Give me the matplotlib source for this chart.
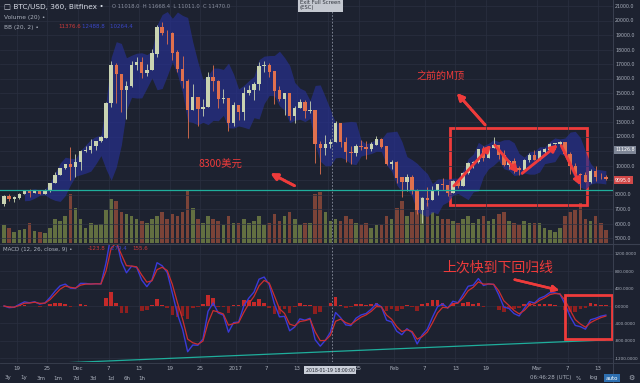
import numpy as np
import pandas as pd
import matplotlib.pyplot as plt
from matplotlib.patches import Rectangle

plt.rcParams['font.family'] = ['DejaVu Sans']
CJK = ['Noto Sans CJK SC', 'DejaVu Sans']

# daily BTC/USD candles, 2017-11-16 .. 2018-03-14
start_date = '2017-11-16'
first_open = 7323
close = [7871, 7708, 7790, 8036, 8200, 8072, 8254, 8039, 8253, 8790, 9330, 9818, 10058, 9888, 10233,
         10975, 11075, 11323, 11657, 11916, 14291, 16900, 16300, 15178, 15455, 16936, 17115, 16408, 16564, 17706,
         19498, 19140, 19114, 17776, 16624, 15802, 13831, 14699, 13925, 14026, 16099, 15838, 14607, 14656, 12952, 14156,
         13657, 14982, 15201, 15599, 16829, 16927, 16477, 15170, 14595, 14973, 13405, 13980, 14360, 13772, 13819,
         11490, 11188, 11474, 11607, 12899, 11600, 10931, 10868, 11359, 11259, 11171, 11440, 11787, 11296, 10106, 10221,
         9170, 8830, 9174, 8277, 6955, 7754, 7621, 8265, 8736, 8621, 8129, 8926, 8598, 9494, 10166, 10233,
         11112, 10551, 11225, 11403, 10690, 10005, 10301, 9813, 9664, 10366, 10725, 10397,
         10951, 11086, 11489, 11512, 11573, 10779, 9966, 9395, 9337, 8867, 9578, 9205, 9194, 9095]
high = [7967, 8004, 7884, 8102, 8280, 8374, 8302, 8268, 8375, 8790, 9522, 9818, 10125, 11300, 10801,
        11046, 11320, 11858, 11657, 12032, 14369, 17200, 17100, 16200, 15850, 17213, 17481, 17453, 16985, 18054,
        19716, 19891, 19371, 19177, 17935, 17567, 15943, 15603, 14626, 14593, 16461, 16930, 15888, 15279, 14681, 14377,
        14112, 15444, 15572, 15739, 17105, 17212, 17079, 16537, 15497, 14973, 15018, 14109, 14595, 14511, 14445,
        13843, 11678, 12107, 11862, 13103, 12895, 11966, 11377, 11501, 11785, 11656, 11614, 12040, 11876, 11307, 10382,
        10289, 9142, 9430, 9334, 8364, 7850, 8509, 8558, 8736, 9122, 8616, 8985, 8958, 9518, 10234, 10324,
        11139, 11349, 11274, 11958, 11418, 11039, 10395, 10498, 9966, 10475, 10878, 11089,
        11052, 11189, 11528, 11512, 11710, 11500, 10900, 10147, 9466, 9531, 9771, 9937, 9470, 9350]
low = [7176, 7561, 7463, 7694, 8007, 7842, 8075, 8038, 8034, 8191, 8775, 9352, 9736, 9000, 9202,
       9694, 10905, 10862, 11081, 11604, 11923, 14057, 14337, 13674, 13226, 15405, 16571, 16039, 16185, 16601,
       17516, 18974, 18355, 17275, 16454, 15342, 11900, 13828, 12747, 13448, 14028, 15114, 13937, 14307, 12350, 12755,
       13154, 13163, 14844, 14522, 15202, 16464, 16087, 14208, 14424, 13491, 13105, 12916, 13952, 13268, 13642,
       10194, 9402, 10715, 11180, 11656, 11288, 10240, 10129, 10639, 11057, 10470, 10989, 11475, 11179, 10036, 9745,
       8812, 7796, 8251, 8032, 6626, 6048, 7236, 7637, 7984, 8295, 7931, 8141, 8455, 8599, 9395, 9824,
       10150, 10326, 10513, 11231, 10479, 9939, 9734, 9501, 9377, 9540, 10247, 10393,
       10352, 10850, 11002, 11136, 11423, 10695, 9394, 9336, 8283, 8828, 8819, 8956, 9042, 9000]
volume = [40, 35, 25, 30, 32, 45, 28, 25, 22, 35, 55, 50, 60, 110, 80,
          55, 35, 45, 40, 42, 75, 100, 95, 70, 65, 60, 55, 50, 45, 55,
          60, 70, 55, 65, 60, 70, 120, 80, 55, 45, 60, 55, 50, 40, 60, 45,
          45, 55, 45, 50, 60, 40, 45, 65, 50, 60, 70, 55, 40, 45, 45,
          110, 115, 70, 50, 55, 50, 60, 55, 45, 40, 45, 35, 40, 40, 60, 55,
          80, 95, 60, 70, 100, 105, 90, 70, 60, 55, 55, 50, 45, 55, 60, 45,
          55, 60, 50, 55, 65, 70, 50, 45, 40, 50, 45, 45,
          45, 35, 30, 25, 35, 60, 70, 75, 90, 55, 50, 60, 45, 30]

price_ticks = [21000, 20000, 19000, 18000, 17000, 16000, 15000, 14000, 13000, 12000, 10000, 8000, 7000, 6000, 5000]
macd_ticks = [1200, 800, 400, 0, -400, -800, -1200]
date_ticks = ['2017-11-19', '2017-11-25', '2017-12-01', '2017-12-07', '2017-12-13', '2017-12-19', '2017-12-25',
              '2018-01-01', '2018-01-07', '2018-01-13', '2018-01-25', '2018-02-01', '2018-02-07', '2018-02-13',
              '2018-02-19', '2018-03-01', '2018-03-07', '2018-03-13']
date_labels = ['19', '25', 'Dec', '7', '13', '19', '25', '2017', '7', '13', '25', 'Feb', '7', '13', '19', 'Mar', '7', '13']
support_level = 8300
last_high = 11126.8
last_price = 9095.0
cursor_time = '2018-01-19 18:00'

BG = '#1d2230'
GRID = '#2a3040'
TXT = '#aab0bc'
RED = '#ee3b3b'

ref = pd.Timestamp('2017-12-01')
dates = pd.date_range(start_date, periods=len(close), freq='D')
d = np.asarray((dates - ref).days, dtype=float)
c = np.array(close, float)
o = np.r_[first_open, c[:-1]]
h = np.array(high, float)
l = np.array(low, float)
v = np.array(volume, float)
up = c >= o

# indicators (6h settings scaled to daily candles)
s = pd.Series(c)
mid = s.rolling(5).mean()
sd = s.rolling(5).std(ddof=0)
bb_up, bb_lo = mid + 2 * sd, mid - 2 * sd
macd = s.ewm(span=3, adjust=False).mean() - s.ewm(span=6.5, adjust=False).mean()
signal = macd.ewm(span=2.25, adjust=False).mean()
hist = macd - signal

tick_d = np.asarray((pd.to_datetime(date_ticks) - ref).days, dtype=float)
cur_d = (pd.Timestamp(cursor_time) - ref) / pd.Timedelta(days=1)

W, H = 640, 383
fig = plt.figure(figsize=(6.4, 3.83), dpi=100, facecolor=BG)


def P(x, y):
    return x / W, 1 - y / H


xl = (-78 / 5.1, 535 / 5.1)
ax1 = fig.add_axes([0, 1 - 243 / H, 613 / W, 243 / H])
ax2 = fig.add_axes([0, 1 - 362 / H, 613 / W, 117 / H])
axv = ax1.twinx()
ax1.set_zorder(axv.get_zorder() + 1)
ax1.patch.set_visible(False)
axv.set_facecolor(BG)

for a in (ax1, ax2, axv):
    a.set_xlim(*xl)
    for sp in a.spines.values():
        sp.set_visible(False)
ax1.set_ylim(21000 - 237 / 0.0145, 21000 + 6 / 0.0145)
ax2.set_facecolor(BG)
ax2.set_ylim(-56 * 22.86, 61 * 22.86)

# grid
for t in np.r_[tick_d, 49]:
    ax1.axvline(t, color=GRID, lw=0.5, zorder=0)
    ax2.axvline(t, color=GRID, lw=0.5, zorder=0)
for p in price_ticks + [9000, 11000]:
    ax1.axhline(p, color=GRID, lw=0.5, zorder=0)
for m in macd_ticks:
    ax2.axhline(m, color=GRID, lw=0.5, zorder=0)

# bollinger band
ax1.fill_between(d + 0.5, bb_lo, bb_up, color='#26308e', alpha=0.7, lw=0, zorder=1)

# volume
axv.bar(d + 0.5, v, width=0.7, color=np.where(up, '#6f7d45', '#8c4a3a'), alpha=0.85)
axv.set_ylim(0, 550)
axv.set_yticks([])

# candles
col = np.where(up, '#c9d3b2', '#e0704e')
ax1.vlines(d + 0.5, np.minimum(l, np.minimum(o, c)), np.maximum(h, np.maximum(o, c)), colors=col, lw=0.6, zorder=3)
ax1.bar(d + 0.5, np.abs(c - o) + 20, bottom=np.minimum(o, c), width=0.65, color=col, zorder=4)

ax1.axhline(support_level, color='#1fae9c', lw=0.9, zorder=5)

ax1.yaxis.tick_right()
ax1.set_yticks(price_ticks)
ax1.set_yticklabels([f'{p:.1f}' for p in price_ticks])
ax1.tick_params(axis='y', length=0, pad=1.5, labelsize=3.4, labelcolor=TXT)
ax1.set_xticks([])

# macd
ax2.bar(d + 0.5, hist, width=0.7, color=np.where(hist >= 0, '#c42a2a', '#8e1f1f'), zorder=2)
ax2.plot(d + 0.5, macd, color='#3a3ad8', lw=1.0, zorder=3)
ax2.plot(d + 0.5, signal, color='#cc2e2e', lw=0.9, zorder=3)
ax2.plot([xl[0] + 60 / 5.1, xl[0] + 605 / 5.1], [(306 - 363) * 22.86, (306 - 340) * 22.86], color='#1fae9c', lw=0.9, zorder=4)
ax2.yaxis.tick_right()
ax2.set_yticks(macd_ticks)
ax2.set_yticklabels([f'{m:.4f}' for m in macd_ticks])
ax2.tick_params(axis='y', length=0, pad=1.5, labelsize=3.0, labelcolor=TXT)
ax2.set_xticks(tick_d)
ax2.set_xticklabels(date_labels)
ax2.tick_params(axis='x', length=0, pad=3, labelsize=4.0, labelcolor=TXT)

# crosshair
for a in (ax1, ax2):
    a.axvline(cur_d, color='#8a90a0', lw=0.6, ls=(0, (2, 2)), zorder=6)

# separators
fig.add_artist(plt.Line2D([613 / W] * 2, [0, 1], color='#3a4050', lw=0.7))
fig.add_artist(plt.Line2D([0, 1], [1 - 244 / H] * 2, color='#3a4050', lw=0.8))
fig.add_artist(plt.Line2D([0, 1], [1 - 363 / H] * 2, color='#3a4050', lw=0.6))

# price tags
fig.text(*P(615, 150), f'{last_high:.1f}', fontsize=3.4, color='white', va='center',
         bbox=dict(boxstyle='square,pad=0.3', fc='#7e8696', ec='none'))
fig.text(*P(615, 180), f'{last_price:.1f}', fontsize=3.4, color='white', va='center',
         bbox=dict(boxstyle='square,pad=0.3', fc='#d04848', ec='none'))
fig.text(*P(330, 370), '2018-01-19 18:00:00', fontsize=3.3, color='#20242e', ha='center', va='center',
         bbox=dict(boxstyle='square,pad=0.25', fc='#c9ced8', ec='none'))

# header
fig.text(*P(4, 7), '\u25a1 BTC/USD, 360, Bitfinex \u2022', fontsize=5.3, color='#d8dce6', va='center')
fig.text(*P(112, 7), 'O 11018.0  H 11668.4  L 11011.0  C 11470.0', fontsize=3.8, color='#8a90a0', va='center')
fig.text(*P(4, 17), 'Volume (20) \u2022', fontsize=4.2, color=TXT, va='center')
fig.text(*P(4, 27), 'BB (20, 2) \u2022', fontsize=4.2, color=TXT, va='center')
fig.text(*P(58, 27), '11376.6', fontsize=4.0, color='#d03a3a', va='center')
fig.text(*P(82, 27), '12488.8   10264.4', fontsize=4.0, color='#3a46c8', va='center')
fig.text(*P(3, 249), 'MACD (12, 26, close, 9) \u2022', fontsize=4.0, color=TXT, va='center')
fig.text(*P(88, 249), '-123.8', fontsize=4.0, color='#d03a3a', va='center')
fig.text(*P(110, 249), '-279.4', fontsize=4.0, color='#3a46c8', va='center')
fig.text(*P(132, 249), '155.6', fontsize=4.0, color='#d03a3a', va='center')
fig.text(*P(300, 5), 'Exit Full Screen\n(ESC)', fontsize=3.8, color='#30343c', va='center', linespacing=1.1,
         bbox=dict(boxstyle='square,pad=0.4', fc='#c4c8d0', ec='none'))

# toolbar
for x, t in zip([8, 24, 41, 58, 76, 93, 111, 127, 142], ['3y', '1y', '3m', '1m', '7d', '3d', '1d', '6h', '1h']):
    fig.text(*P(x, 378), t, fontsize=4.0, color=TXT, ha='center', va='center')
fig.text(*P(551, 378), '06:46:28 (UTC)', fontsize=4.0, color=TXT, ha='center', va='center')
fig.text(*P(578, 378), '%', fontsize=4.0, color=TXT, ha='center', va='center')
fig.text(*P(594, 378), 'log', fontsize=4.0, color=TXT, ha='center', va='center')
fig.text(*P(612, 378), 'auto', fontsize=4.0, color='white', ha='center', va='center',
         bbox=dict(boxstyle='square,pad=0.25', fc='#2e6fb0', ec='none'))
fig.text(*P(631, 378), '\u2699', fontsize=5, color=TXT, ha='center', va='center')

# annotations
fig.text(*P(220, 165), '8300美元', fontsize=7.5, color=RED, ha='center', va='center', family=CJK)
fig.text(*P(441, 76), '之前的M顶', fontsize=7.2, color=RED, ha='center', va='center', family=CJK)
fig.text(*P(498, 268), '上次快到下回归线', fontsize=10, color=RED, ha='center', va='center', family=CJK)


def arrow(x0, y0, x1, y1, lw=2.0, ms=10):
    fig.add_artist(plt.annotate('', xy=P(x1, y1), xytext=P(x0, y0), xycoords='figure fraction',
                                textcoords='figure fraction',
                                arrowprops=dict(arrowstyle='-|>', color=RED, lw=lw, mutation_scale=ms)))


arrow(297, 187, 268, 172)
arrow(487, 127, 455, 91)
arrow(452, 188, 493, 143)
arrow(493, 143, 520, 175)
arrow(520, 175, 560, 143)
arrow(560, 143, 582, 188)
arrow(512, 279, 562, 291, lw=1.8, ms=9)

fig.add_artist(Rectangle(P(450, 205), 137 / W, 77 / H, transform=fig.transFigure, fill=False, ec=RED, lw=2))
fig.add_artist(Rectangle(P(565, 339), 47 / W, 44 / H, transform=fig.transFigure, fill=False, ec=RED, lw=2))

fig.savefig('out.png', dpi=100, facecolor=BG)
